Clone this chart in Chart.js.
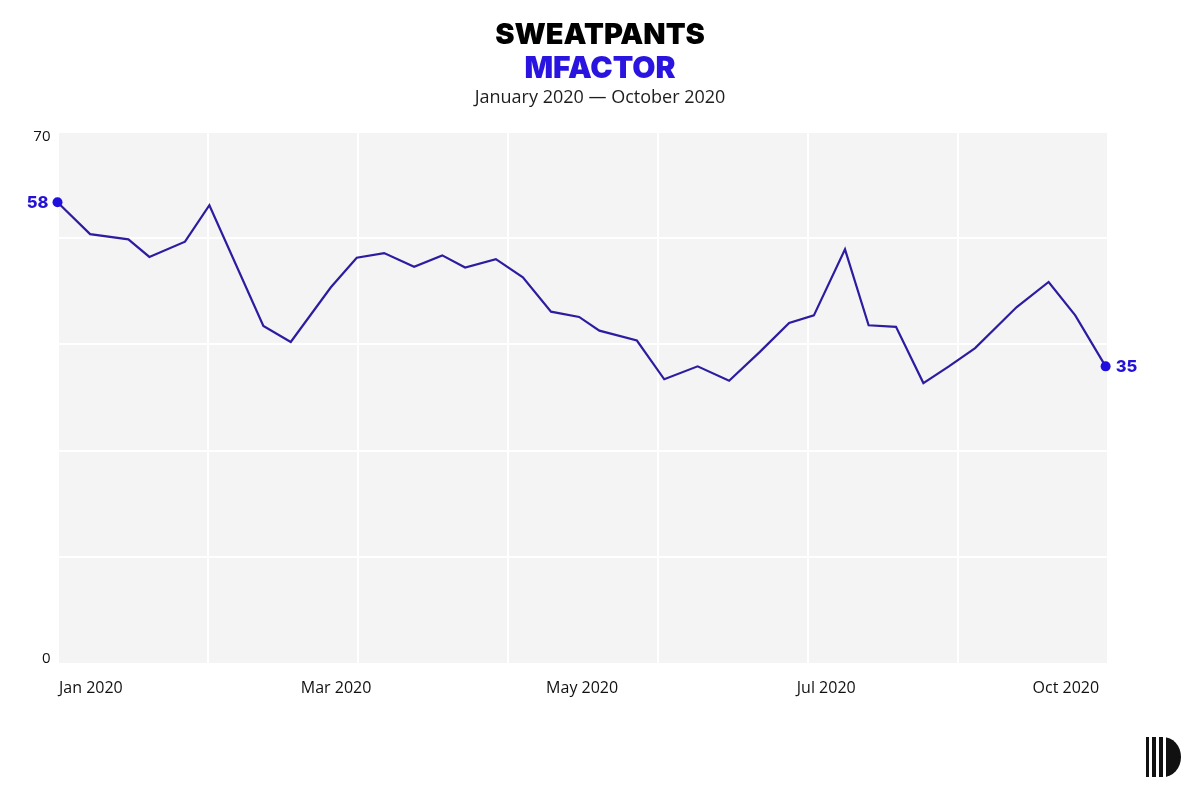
<!DOCTYPE html>
<html><head><meta charset="utf-8">
<script src="https://cdn.jsdelivr.net/npm/chart.js@4.4.1/dist/chart.umd.min.js"></script>
<style>
html,body{margin:0;padding:0;background:#fff;}
#wrap{position:relative;width:1200px;height:800px;}
#logo{position:absolute;left:1146px;top:737px;width:35px;height:40px;border-radius:0 18px 18px 0 / 0 20px 20px 0;
  background:linear-gradient(90deg,#111 0 3px,#fff 3px 6.3px,#111 6.3px 10px,#fff 10px 12.6px,#111 12.6px 17.3px,#fff 17.3px 20px,#111 20px 35px);}
</style></head><body>
<div id="wrap"><canvas id="c" width="1200" height="800"></canvas><div id="logo"></div></div>
<script>
const titleText = 'SWEATPANTS';
const subtitleText = 'MFACTOR';
const periodText = 'January 2020 — October 2020';
// x in days since 1 Jan 2020 (approx.), y read off the 0–70 axis
const days = [0, 8.7, 18.9, 24.5, 34, 40.5, 54.9, 62.2, 72.9, 79.8, 87.1, 95.1, 102.6, 108.7, 116.9, 124.1, 131.6, 139.1, 144.5, 154.5, 161.8, 170.7, 179.1, 187.3, 195.1, 201.7, 210, 216.3, 223.6, 230.9, 237.7, 244.7, 255.8, 264.3, 271.4, 279.5];
const values = [60.7, 56.5, 55.8, 53.5, 55.5, 60.3, 44.4, 42.3, 49.5, 53.4, 54.0, 52.2, 53.7, 52.1, 53.2, 50.8, 46.3, 45.6, 43.8, 42.5, 37.4, 39.1, 37.2, 41.0, 44.8, 45.8, 54.5, 44.5, 44.3, 36.9, 39.1, 41.5, 46.9, 50.2, 45.8, 39.1];
const yTopLabel = '70';
const yBottomLabel = '0';
const xTickDays = [8.9, 74.3, 139.9, 205, 268.9];
const xTickLabels = ['Jan 2020', 'Mar 2020', 'May 2020', 'Jul 2020', 'Oct 2020'];
const endLabels = ['58', '35'];

const last = values.length - 1;
const bgPlugin = {
  id: 'bg',
  beforeDraw(chart) {
    const {ctx, chartArea: a} = chart;
    ctx.save();
    ctx.fillStyle = '#f4f4f4';
    ctx.fillRect(a.left, a.top, a.right - a.left, a.bottom - a.top);
    ctx.restore();
  }
};
const textPlugin = {
  id: 'texts',
  afterDraw(chart) {
    const ctx = chart.ctx;
    ctx.save();
    ctx.textAlign = 'center';
    ctx.textBaseline = 'alphabetic';
    ctx.fillStyle = '#000';
    ctx.font = '900 29px Inter, "Noto Sans", sans-serif';
    ctx.fillText(titleText, 600, 43.5);
    ctx.fillStyle = '#2a14e0';
    ctx.font = '900 30px Inter, "Noto Sans", sans-serif';
    ctx.fillText(subtitleText, 600, 78);
    ctx.fillStyle = '#1e1e1e';
    ctx.font = '18px "Open Sans", sans-serif';
    ctx.fillText(periodText, 600, 102.5);
    const pts = chart.getDatasetMeta(0).data;
    ctx.font = '800 16.5px Inter, "Noto Sans", sans-serif';
    ctx.fillStyle = '#2412d6';
    ctx.textBaseline = 'middle';
    ctx.textAlign = 'right';
    ctx.fillText(endLabels[0], pts[0].x - 9, pts[0].y + 1);
    ctx.textAlign = 'left';
    ctx.fillText(endLabels[1], pts[last].x + 10, pts[last].y + 1);
    ctx.restore();
  }
};

new Chart(document.getElementById('c'), {
  type: 'line',
  data: {
    datasets: [{
      data: days.map((d, i) => ({x: d, y: values[i]})),
      borderColor: '#2c1ca0',
      borderWidth: 2.2,
      tension: 0,
      clip: false,
      pointRadius: ctx => (ctx.dataIndex === 0 || ctx.dataIndex === last) ? 5 : 0,
      pointBackgroundColor: '#1f10e0',
      pointBorderWidth: 0
    }]
  },
  options: {
    responsive: false,
    animation: false,
    devicePixelRatio: 1,
    layout: {padding: {top: 131.5, right: 92.5, left: 0, bottom: 0}},
    plugins: {legend: {display: false}, tooltip: {enabled: false}, title: {display: false}},
    scales: {
      x: {
        type: 'linear', min: 0, max: 280, position: 'bottom',
        ticks: {display: false, stepSize: 40},
        grid: {color: '#ffffff', lineWidth: 2, drawTicks: false},
        border: {display: false},
        afterFit(s) { s.height = 0; }
      },
      xl: {
        type: 'linear', min: 0, max: 280, position: 'bottom',
        grid: {display: false, drawTicks: false},
        border: {display: false},
        afterBuildTicks(s) { s.ticks = xTickDays.map(v => ({value: v})); },
        ticks: {
          callback: (v, i) => xTickLabels[i],
          autoSkip: false, maxRotation: 0,
          padding: 15,
          font: {family: '"Open Sans"', size: 16},
          color: '#111111'
        },
        afterFit(s) { s.height = 136.5; }
      },
      y: {
        min: 0, max: 70, position: 'left',
        ticks: {
          stepSize: 14,
          // two-line labels nudge the end labels inward, as in the original
          callback: v => (v === 70 ? ['', yTopLabel] : v === 0 ? [yBottomLabel, ''] : ''),
          padding: 7,
          font: c => ({family: '"Open Sans"', size: 15, lineHeight: c.tick && c.tick.value === 70 ? 0.74 : 0.67}),
          color: '#111111'
        },
        grid: {color: '#ffffff', lineWidth: 2, drawTicks: false},
        border: {display: false},
        afterFit(s) { s.width = 57.5; }
      }
    }
  },
  plugins: [bgPlugin, textPlugin]
});
</script>
</body></html>
